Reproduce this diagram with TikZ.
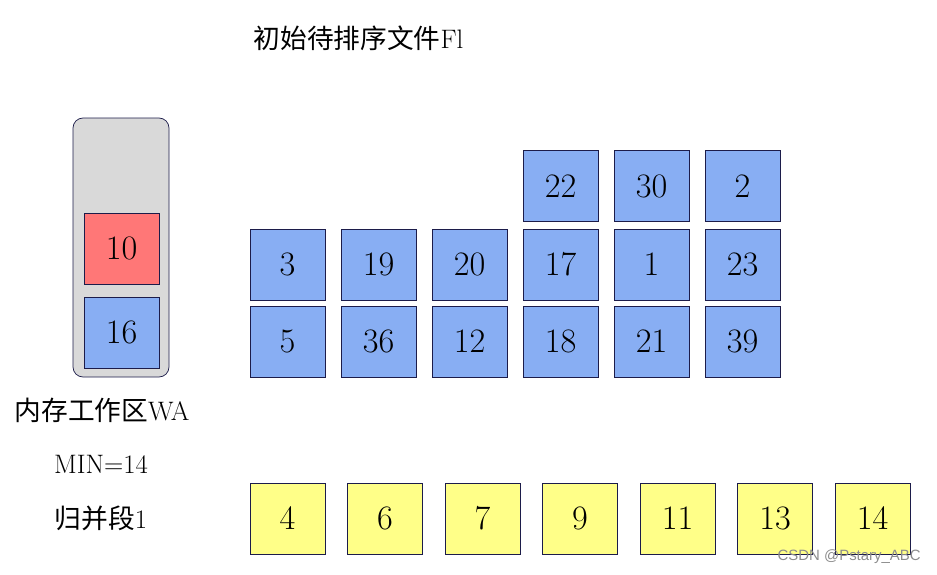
\documentclass[tikz,border=0pt]{standalone}
\usepackage{fontspec}
\usepackage{tikz}
\newfontfamily\cjk{Noto Sans CJK SC}
\newfontfamily\wmark{Liberation Sans}

\definecolor{runblue}{HTML}{88AEF3}
\definecolor{minred}{HTML}{FF7777}
\definecolor{outyellow}{HTML}{FFFF88}
\definecolor{wagray}{HTML}{D9D9D9}
\definecolor{edge}{HTML}{1C1C4A}

\tikzset{
    key/.style={draw=edge, minimum width=1.5cm, minimum height=1.42cm, inner sep=0pt,
        font=\fontsize{19.5}{22}\selectfont},
    lab/.style={font=\fontsize{15.2}{18}\selectfont}
}

\begin{document}
\begin{tikzpicture}[x=0.02cm, y=-0.02cm]
    \useasboundingbox (0,0) rectangle (937,575);

    \draw (358.5,38) node[lab] (title) {{\cjk 初始待排序文件}Fl};

    % working area
    \draw[draw=edge, fill=wagray, rounded corners=0.2cm] (73,118) rectangle (169,377);
    \draw (121.5,248.5) node[key, fill=minred] (wa1) {10};
    \draw (121.5,332.5) node[key, fill=runblue] (wa2) {16};

    \draw (102,410) node[lab] (walab) {{\cjk 内存工作区}WA};
    \draw (101,464) node[lab] (minlab) {MIN=14};
    \draw (101,518) node[lab] (runlab) {{\cjk 归并段}1};

    % input file
    \foreach \v [count=\i] in {22,30,2}
        \draw (560.5+91*\i-91,186) node[key, fill=runblue] (top\i) {\v};
    \foreach \v [count=\i] in {3,19,20,17,1,23}
        \draw (287.5+91*\i-91,264.5) node[key, fill=runblue] (mid\i) {\v};
    \foreach \v [count=\i] in {5,36,12,18,21,39}
        \draw (287.5+91*\i-91,341.5) node[key, fill=runblue] (bot\i) {\v};

    % output run
    \foreach \v [count=\i] in {4,6,7,9,11,13,14}
        \draw (287.5+97.5*\i-97.5,518.5) node[key, fill=outyellow] (out\i) {\v};

    \draw (921,557) node[left, inner sep=0pt, text=black!45, font=\wmark\fontsize{8.5}{10}\selectfont] (mark) {CSDN @Pstary\_ABC};
\end{tikzpicture}
\end{document}
